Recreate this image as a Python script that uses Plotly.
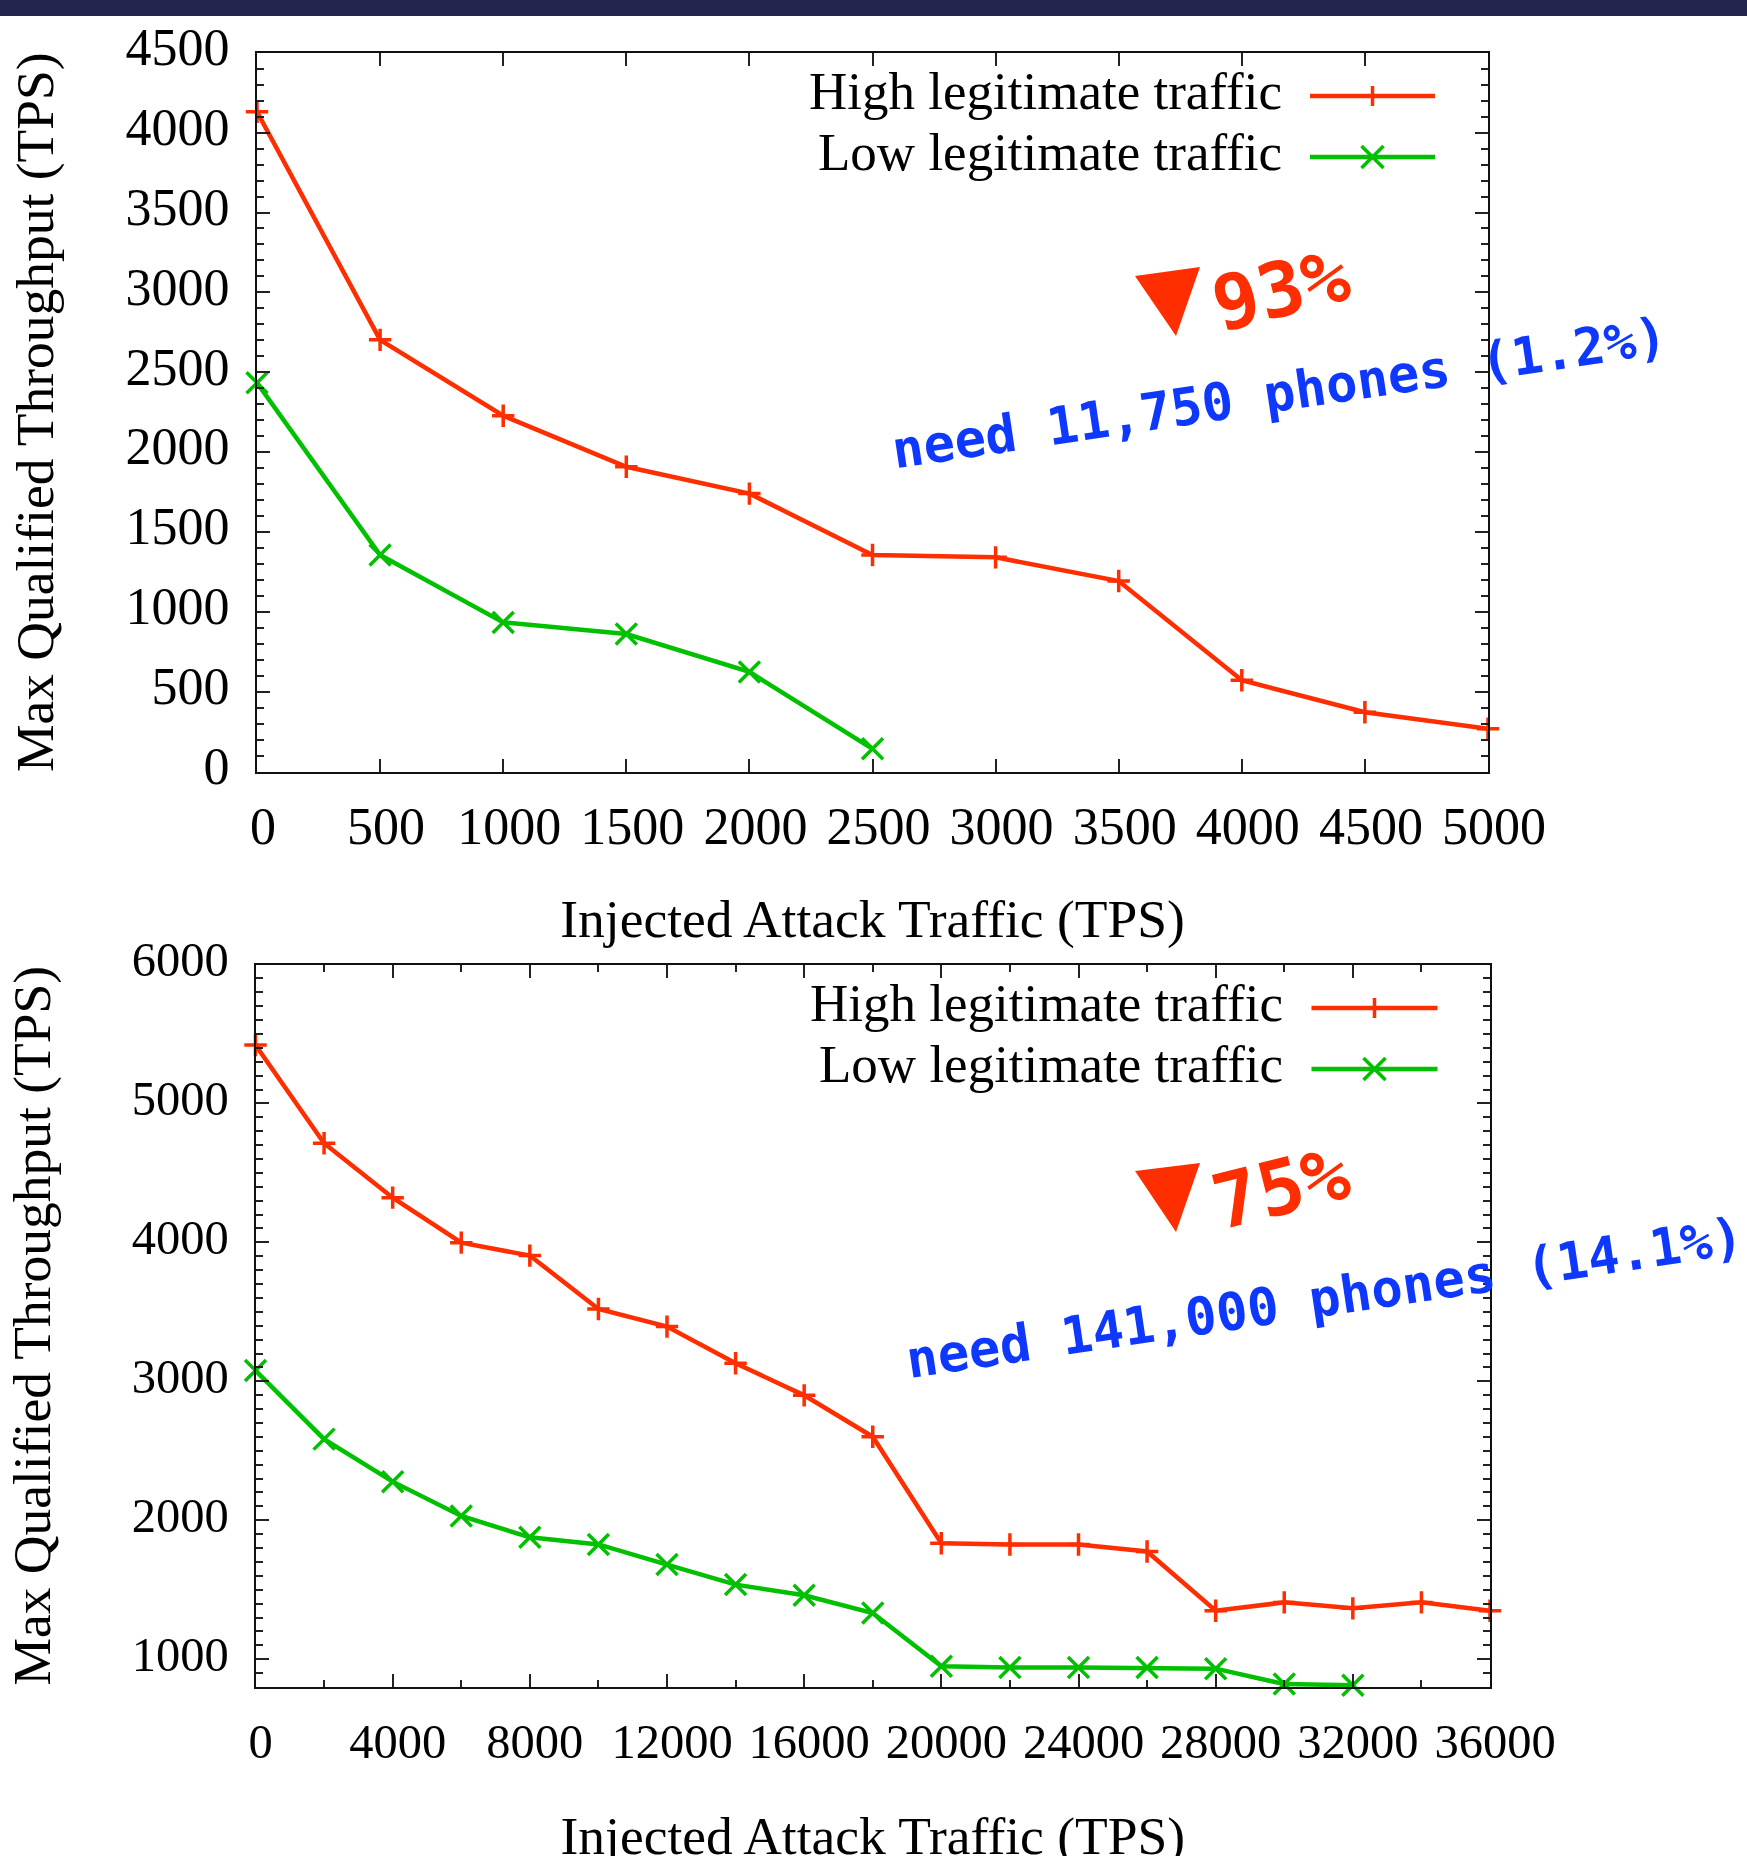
import plotly.graph_objects as go

W, H = 1747, 1866  # window shows the first 1856 px; the extra keeps the lower axis title free of the edge clamp
SERIF = "Liberation Serif"
HAND = "DejaVu Sans Mono"
RED = "#ff2e00"
GREEN = "#00c000"
BLUE = "#0f38ff"
NAVY = "#22244c"

# ---- data, top panel
top_x_high = [0, 500, 1000, 1500, 2000, 2500, 3000, 3500, 4000, 4500, 5000]
top_high = [4130, 2703, 2228, 1909, 1741, 1357, 1342, 1194, 573, 373, 270]
top_x_low = [0, 500, 1000, 1500, 2000, 2500]
top_low = [2434, 1357, 935, 862, 625, 144]

# ---- data, bottom panel
bot_x_high = list(range(0, 36001, 2000))
bot_high = [5420, 4714, 4322, 3998, 3905, 3521, 3394, 3130, 2899, 2601,
            1835, 1826, 1826, 1775, 1349, 1409, 1366, 1409, 1349]
bot_x_low = list(range(0, 32001, 2000))
bot_low = [3078, 2584, 2278, 2031, 1877, 1826, 1681, 1537, 1460, 1332,
           949, 940, 940, 940, 932, 821, 813]

LEG_HIGH = "High legitimate traffic"
LEG_LOW = "Low legitimate traffic"
X_TITLE = "Injected Attack Traffic (TPS)"
Y_TITLE = "Max Qualified Throughput (TPS)"


def px(x):
    return x / W


def py(y):
    return 1 - y / H


def series(x, y, name, color, symbol, size, xa, ya):
    return go.Scatter(
        x=x, y=y, name=name, xaxis=xa, yaxis=ya, mode="lines+markers", cliponaxis=False,
        showlegend=False,
        line=dict(color=color, width=4.5),
        marker=dict(symbol=symbol, size=size, color=color, line=dict(color=color, width=3.5)),
    )


fig = go.Figure()
fig.add_trace(series(top_x_high, top_high, LEG_HIGH, RED, "cross-thin", 16, "x", "y"))
fig.add_trace(series(top_x_low, top_low, LEG_LOW, GREEN, "x-thin", 21, "x", "y"))
fig.add_trace(series(bot_x_high, bot_high, LEG_HIGH, RED, "cross-thin", 16, "x2", "y2"))
fig.add_trace(series(bot_x_low, bot_low, LEG_LOW, GREEN, "x-thin", 21, "x2", "y2"))


def x_axis(dom, rng, dtick, minor, anchor, standoff, labelgap, shift, fsize):
    ax = dict(
        domain=[px(dom[0]), px(dom[1])], range=rng, dtick=dtick, tick0=0, anchor=anchor,
        ticks="inside", ticklen=13, tickwidth=1.5, tickcolor="#222",
        showline=True, linecolor="#111", linewidth=2, mirror="ticks",
        showgrid=False, zeroline=False, tickformat="d",
        tickfont=dict(family=SERIF, size=fsize, color="black"),
        ticklabelstandoff=labelgap, ticklabelshift=shift, automargin=False,
        title=dict(text=X_TITLE, font=dict(family=SERIF, size=53.5, color="black"), standoff=standoff),
    )
    if minor:
        ax["minor"] = dict(dtick=minor, ticks="inside", ticklen=7, tickwidth=1.5, tickcolor="#222", showgrid=False)
    return ax


def y_axis(dom, rng, dtick, anchor, standoff, labelgap, shift, fsize):
    return dict(
        domain=[py(dom[1]), py(dom[0])], range=rng, dtick=dtick, tick0=0, anchor=anchor,
        ticks="inside", ticklen=13, tickwidth=1.5, tickcolor="#222",
        showline=True, linecolor="#111", linewidth=2, mirror="ticks",
        showgrid=False, zeroline=False, tickformat="d",
        tickfont=dict(family=SERIF, size=fsize, color="black"),
        ticklabelstandoff=labelgap, ticklabelshift=shift, automargin=False,
        minor=dict(dtick=100, ticks="inside", ticklen=7, tickwidth=1.5, tickcolor="#222", showgrid=False),
        title=dict(text=Y_TITLE, font=dict(family=SERIF, size=53.5, color="black"), standoff=standoff),
    )


shapes = [dict(type="rect", xref="paper", yref="paper", x0=0, x1=1, y0=py(16), y1=1.01,
               fillcolor=NAVY, line=dict(width=0), layer="above")]


def triangle(a, b, c):
    path = f"M {px(a[0])} {py(a[1])} L {px(b[0])} {py(b[1])} L {px(c[0])} {py(c[1])} Z"
    return dict(type="path", xref="paper", yref="paper", path=path, fillcolor=RED, line=dict(width=0))


def seg(x0, y0, x1, y1, color, width):
    return dict(type="line", xref="paper", yref="paper", x0=px(x0), x1=px(x1), y0=py(y0), y1=py(y1),
                line=dict(color=color, width=width))


def legend_key(x0, x1, yh, yl):
    c = (x0 + x1) / 2
    a = 10
    b = 11
    return [
        seg(x0, yh, x1, yh, RED, 4.5), seg(c, yh - a, c, yh + a, RED, 3.5), seg(c - a, yh, c + a, yh, RED, 3.5),
        seg(x0, yl, x1, yl, GREEN, 4.5), seg(c - b, yl - b, c + b, yl + b, GREEN, 3.5), seg(c - b, yl + b, c + b, yl - b, GREEN, 3.5),
    ]


shapes += [triangle((1135, 276), (1200, 267), (1176, 336)), triangle((1135, 1171), (1200, 1163), (1176, 1232))]
shapes += legend_key(1310, 1435, 96, 157) + legend_key(1311.5, 1437.5, 1008, 1069)


def label(text, x, y, size, color="black", anchor="right", angle=0, weight="normal", family=SERIF):
    return dict(text=text, xref="paper", yref="paper", x=px(x), y=py(y), showarrow=False,
                xanchor=anchor, yanchor="middle", textangle=angle,
                font=dict(family=family, size=size, color=color, weight=weight))


annotations = [
    label(LEG_HIGH, 1284, 91, 53), label(LEG_LOW, 1284, 152, 53),
    label(LEG_HIGH, 1285, 1003, 53), label(LEG_LOW, 1285, 1064, 53),
    label("93%", 1281, 289, 76, RED, "center", -14, "bold", HAND),
    label("75%", 1281, 1187, 76, RED, "center", -14, "bold", HAND),
    label("need 11,750 phones (1.2%)", 1279, 393, 52, BLUE, "center", -8.5, "bold", HAND),
    label("need 141,000 phones (14.1%)", 1324, 1298, 52, BLUE, "center", -8.5, "bold", HAND),
]

fig.update_layout(
    width=W, height=H, autosize=False, margin=dict(l=0, r=0, t=0, b=0),
    paper_bgcolor="white", plot_bgcolor="white", showlegend=False,
    shapes=shapes, annotations=annotations,
    xaxis=x_axis((257, 1488), [0, 5000], 500, None, "y", 45, 8, 6, 52),
    yaxis=y_axis((52.7, 771.8), [0, 4500], 500, "x", 55, 15, -6, 52),
    xaxis2=x_axis((255.5, 1490), [0, 36000], 4000, 2000, "y2", 79, 11, 5, 48.5),
    yaxis2=y_axis((964.5, 1687), [800, 6000], 1000, "x2", 64, 15, -5, 48.5),
)

fig.write_html("out.html", config=dict(displayModeBar=False),
               post_script="document.body.style.margin='0';document.documentElement.style.overflow='hidden';document.body.style.overflow='hidden';")
